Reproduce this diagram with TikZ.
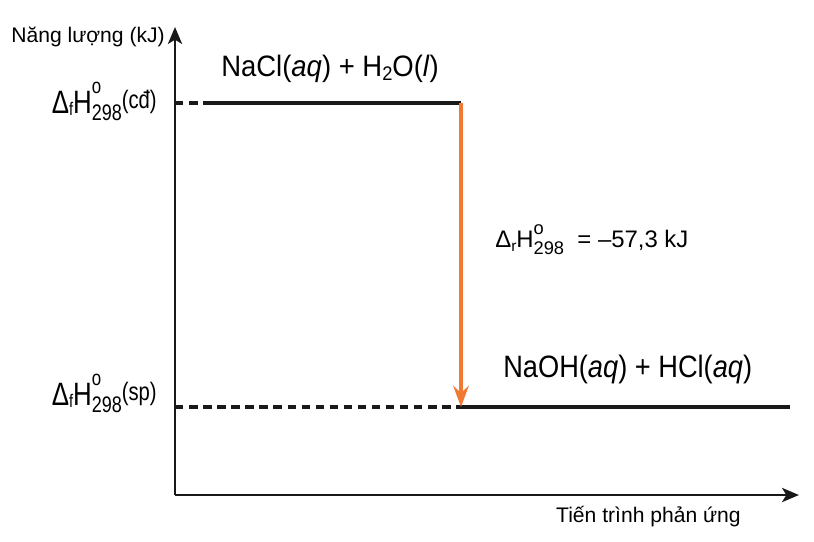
\documentclass[tikz,border=0pt]{standalone}
\usepackage{fontspec}
\setmainfont{Liberation Sans}
\usepackage{graphicx}
\usepackage{tikz}
\usetikzlibrary{arrows.meta}
\definecolor{deltaorange}{RGB}{240,122,52}
\definecolor{lineblack}{RGB}{25,25,25}
\newcommand\fsz[1]{\fontsize{#1}{#1}\selectfont}
\newcommand\enthalpy[2]{\scalebox{0.8}[1]{{\fsz{23}Δ}\raisebox{-1.5pt}{\fsz{13}f}{\fsz{23}H}\rlap{\raisebox{14pt}{\fsz{15}o}}\raisebox{-5pt}{\fsz{16}298}\raisebox{3pt}{\fsz{18}#2}}}
\tikzset{
  axis/.style={lineblack,line width=2.1pt,-{Stealth[length=12pt,width=10pt,inset=3pt]}},
  level/.style={lineblack,line width=2.5pt},
  guide/.style={lineblack,line width=2.5pt,dash pattern=on 6pt off 4pt},
  change/.style={deltaorange,line width=2.5pt,-{Stealth[length=15pt,width=11pt,inset=5pt]}}
}

\begin{document}
\begin{tikzpicture}[x=0.025cm,y=-0.025cm]
            \useasboundingbox (0,0) rectangle (814,541);
            \coordinate (o) at (175,495);
            \coordinate (ytop) at (175,27);
            \coordinate (xend) at (799,495);
            \coordinate (cd0) at (175,103);
            \coordinate (cd1) at (212,103);
            \coordinate (cd2) at (461,103);
            \coordinate (sp0) at (175,407);
            \coordinate (sp1) at (461,407);
            \coordinate (sp2) at (790,407);
            \draw[axis](o)--(ytop);
            \draw[axis](o)--(xend);
            \draw[guide](cd0)--(cd1);
            \draw[level](cd1)--(cd2);
            \draw[guide](sp0)--(sp1);
            \draw[level](sp1)--(sp2);
            \draw[change](cd2)--(sp1);
            \node[anchor=base east,inner sep=0pt] (ylabel) at (165,42) {\fsz{15}Năng lượng (kJ)};
            \node[anchor=base east,inner sep=0pt] (xlabel) at (741,522) {\fsz{15}Tiến trình phản ứng};
            \node[anchor=base west,inner sep=0pt] (react) at (221,76) {\scalebox{0.93}[1]{\fsz{21}NaCl(\textit{aq}) + H\raisebox{-3pt}{\fsz{14}2}O(\textit{l})}};
            \node[anchor=base west,inner sep=0pt] (prod) at (503,377) {\scalebox{0.88}[1]{\fsz{22}NaOH(\textit{aq}) + HCl(\textit{aq})}};
            \node[anchor=base east,inner sep=0pt] (hcd) at (157,113) {\enthalpy{f}{(cđ)}};
            \node[anchor=base east,inner sep=0pt] (hsp) at (157,405) {\enthalpy{f}{(sp)}};
            \node[anchor=base west,inner sep=0pt] (hr) at (495,247) {{\fsz{17}Δ}\raisebox{-3pt}{\fsz{11}r}{\fsz{17}H}\rlap{\raisebox{9pt}{\fsz{13}o}}\raisebox{-5pt}{\fsz{13}298}\fsz{17}\ \ = –57,3 kJ};
        \end{tikzpicture}
\end{document}
